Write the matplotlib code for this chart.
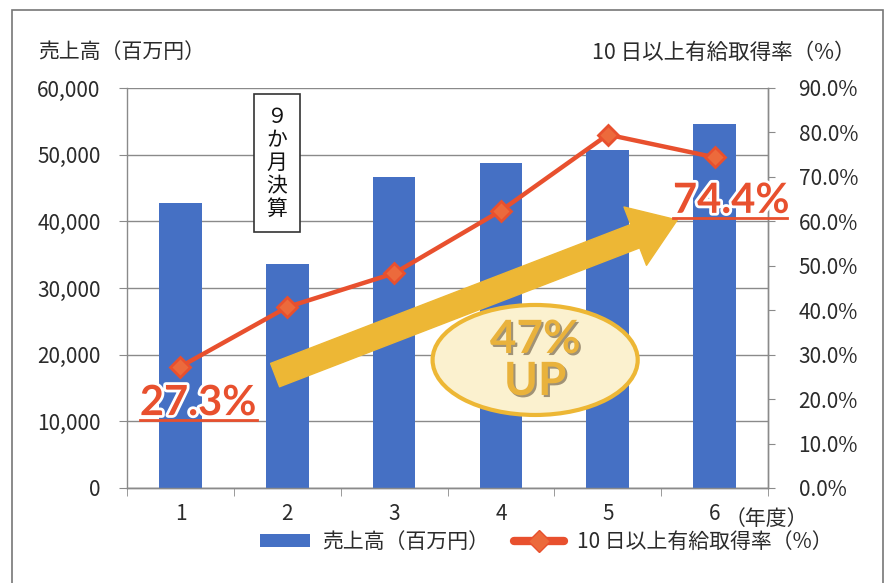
import matplotlib
matplotlib.use('Agg')
import matplotlib.pyplot as plt
import matplotlib.patheffects as pe
from matplotlib.patches import Ellipse, FancyArrowPatch, Rectangle
from matplotlib.lines import Line2D
from matplotlib.ticker import FuncFormatter, MultipleLocator

plt.rcParams['font.family'] = ['Noto Sans CJK JP', 'DejaVu Sans']

# data
years = [1, 2, 3, 4, 5, 6]
sales = [42800, 33600, 46600, 48800, 50700, 54600]  # 売上高（百万円）
leave_rate = [0.273, 0.407, 0.483, 0.624, 0.795, 0.744]  # 10日以上有給取得率

bar_color = '#4570C4'
line_color = '#E8502E'
grid_color = '#8a8a8a'
text_color = '#2b2b2b'
yellow = '#EDB735'

fig = plt.figure(figsize=(8.87, 5.83), dpi=100)
ax = fig.add_axes([0.1432, 0.1630, 0.7227, 0.6861])
ax2 = ax.twinx()

# bars on the left axis
ax.bar(years, sales, width=0.4, color=bar_color, zorder=3)
ax.set_xlim(0.5, 6.5)
ax.set_ylim(0, 60000)
ax.yaxis.set_major_locator(MultipleLocator(10000))
ax.yaxis.set_major_formatter(FuncFormatter(lambda v, p: f'{int(v):,}'))
ax.grid(axis='y', color=grid_color, linewidth=1, zorder=0)
ax.set_xticks(years)
ax.set_xticks([y - 0.5 for y in years] + [6.5], minor=True)
ax.tick_params(axis='x', which='major', length=0, pad=11, labelsize=15, labelcolor=text_color)
ax.tick_params(axis='x', which='minor', length=6, color=grid_color, direction='out')
ax.tick_params(axis='y', length=6, color=grid_color, pad=13, labelsize=15, labelcolor=text_color)

# line on the right axis
ax2.plot(years, leave_rate, color=line_color, linewidth=3.2, marker='D', markersize=10,
         markerfacecolor='#EC6A3C', markeredgecolor=line_color, markeredgewidth=2, zorder=5)
ax2.set_ylim(0, 0.9)
ax2.yaxis.set_major_locator(MultipleLocator(0.1))
ax2.yaxis.set_major_formatter(FuncFormatter(lambda v, p: f'{v * 100:.1f}%'))
ax2.tick_params(axis='y', length=5, color=grid_color, pad=17, labelsize=15, labelcolor=text_color)

for a in (ax, ax2):
    a.spines['top'].set_visible(False)
    for s in ('left', 'right', 'bottom'):
        a.spines[s].set_color(grid_color)
        a.spines[s].set_linewidth(1)
ax2.spines['left'].set_visible(False)

# axis titles
fig.text(38 / 887, 1 - 52 / 583, '売上高（百万円）', fontsize=15, color=text_color, va='center', ha='left')
fig.text(856 / 887, 1 - 53 / 583, '10 日以上有給取得率（%）', fontsize=15.5, color=text_color, va='center', ha='right')
ax.annotate('（年度）', xy=(6, 0), xycoords=('data', 'axes fraction'), xytext=(7, -22),
            textcoords='offset points', fontsize=15, color=text_color, ha='left', va='center')

# 9か月決算 note
ax2.text(1.90, 0.731, '９\nか\n月\n決\n算', fontsize=15, color='#111111', ha='center', va='center',
         linespacing=1.05, zorder=6,
         bbox=dict(boxstyle='square,pad=0.6', facecolor='white', edgecolor='#333333', linewidth=1.2))

# yellow arrow and 47% UP badge
arrow = FancyArrowPatch((1.886, 0.254), (5.65, 0.603), transform=ax2.transData,
                        arrowstyle='simple,head_length=1.8,head_width=2.5,tail_width=1.0',
                        mutation_scale=18, color=yellow, shrinkA=0, shrinkB=0, zorder=6,
                        joinstyle='round', capstyle='round')
ax2.add_patch(arrow)
ax2.add_patch(Ellipse((4.32, 0.288), 1.92, 0.2475, facecolor='#FBF1CF', edgecolor=yellow,
                      linewidth=3, zorder=7))
shadow = [pe.withSimplePatchShadow(offset=(1.5, -1.5), shadow_rgbFace='#7a6a50', alpha=0.7)]
ax2.text(4.32, 0.333, '47%', fontsize=33, fontweight='bold', family=['Lato', 'DejaVu Sans'],
         color='#E9B23C', ha='center', va='center', zorder=8, path_effects=shadow)
ax2.text(4.32, 0.2385, 'UP', fontsize=33, fontweight='bold', family=['Lato', 'DejaVu Sans'],
         color='#E9B23C', ha='center', va='center', zorder=8, path_effects=shadow)

# first / last rate callouts
outline = [pe.withStroke(linewidth=4, foreground='white')]
ax2.text(0.62, 0.164, f'{leave_rate[0] * 100:.1f}%', fontsize=30, fontweight='bold',
         family=['Lato', 'DejaVu Sans'], color=line_color, ha='left', va='baseline',
         zorder=8, path_effects=outline, clip_on=False)
ax2.plot([0.62, 1.717], [0.153, 0.153], color=line_color, linewidth=2, zorder=8, clip_on=False)
ax2.text(5.61, 0.619, f'{leave_rate[-1] * 100:.1f}%', fontsize=30, fontweight='bold',
         family=['Lato', 'DejaVu Sans'], color=line_color, ha='left', va='baseline',
         zorder=8, path_effects=outline, clip_on=False)
ax2.plot([5.61, 6.68], [0.6075, 0.6075], color=line_color, linewidth=2, zorder=8, clip_on=False)

# legend
handles = [Rectangle((0, 0), 1, 1, facecolor=bar_color),
           Line2D([], [], color=line_color, linewidth=6, solid_capstyle='round', marker='D',
                  markersize=11, markerfacecolor='#EC6A3C', markeredgecolor=line_color)]
labels = ['売上高（百万円）', '10 日以上有給取得率（%）']
fig.legend(handles, labels, loc='center', bbox_to_anchor=(546 / 887, 1 - 542 / 583),
           ncol=2, frameon=False, fontsize=15, handlelength=2.4, handleheight=0.55,
           handletextpad=0.6, columnspacing=1.2, labelcolor=text_color)

# outer frame of the chart
fig.add_artist(Rectangle((12 / 887, -0.02), 871 / 887, 1.02 - 10 / 583, transform=fig.transFigure,
                         fill=False, edgecolor='#777777', linewidth=1.2))

fig.savefig('out.png', dpi=100, facecolor='white')
